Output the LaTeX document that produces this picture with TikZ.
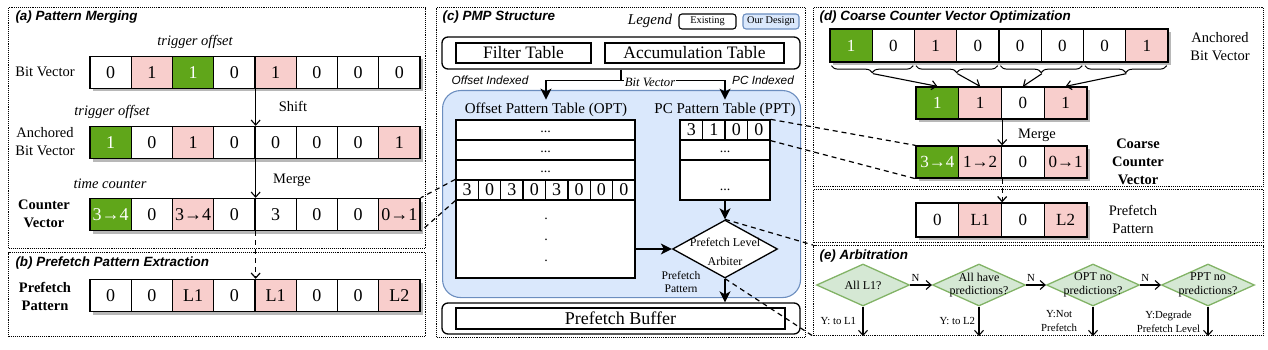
\documentclass[tikz,border=0pt]{standalone}
\usepackage{fontspec}
\setmainfont{Liberation Serif}
\setsansfont{Liberation Sans}
\usetikzlibrary{positioning,calc,arrows.meta,shapes.geometric,shadows,decorations.pathreplacing}

\definecolor{cgreen}{RGB}{96,166,26}
\definecolor{cpink}{RGB}{248,206,204}
\definecolor{cblue}{RGB}{218,232,252}
\definecolor{cbluedraw}{RGB}{108,142,191}
\definecolor{dgreen}{RGB}{213,232,212}
\definecolor{dgreendraw}{RGB}{130,179,102}

\begin{document}
\begin{tikzpicture}[x=1pt,y=-1pt,
    panel/.style={draw,densely dotted,line width=1.1pt,anchor=north west,inner sep=0},
    ttl/.style={anchor=west,font=\sffamily\bfseries\itshape\fontsize{13.4}{15}\selectfont},
    lbl/.style={align=center,font=\fontsize{14.5}{18}\selectfont},
    blbl/.style={align=center,font=\bfseries\fontsize{14.5}{18}\selectfont},
    ilbl/.style={font=\itshape\fontsize{14.5}{16}\selectfont},
    cell/.style={draw,line width=1.3pt,minimum width=41.25pt,minimum height=32pt,inner sep=0,
        font=\fontsize{18}{18}\selectfont,
        drop shadow={shadow xshift=2.5pt,shadow yshift=-3pt,fill=black!28,opacity=1}},
    dcell/.style={cell,minimum width=42.5pt,minimum height=32pt,font=\fontsize{17}{17}\selectfont},
    cw/.style={fill=white},
    cp/.style={fill=cpink},
    cg/.style={fill=cgreen,text=white},
    tb/.style={draw,line width=1.3pt,inner sep=0,fill=white},
    tcell/.style={tb,minimum width=22.375pt,minimum height=20pt,font=\fontsize{18}{18}\selectfont},
    trow/.style={tb,minimum height=20pt,font=\fontsize{14}{14}\selectfont},
    rbox/.style={draw,line width=1.3pt,rounded corners=6pt,inner sep=0},
    arr/.style={-{Straight Barb[length=5pt,width=9pt]},line width=1.1pt},
    bigarr/.style={-{Stealth[length=11pt,width=11pt,inset=3pt]},line width=1.4pt},
    dsh/.style={dashed,dash pattern=on 5pt off 4pt,line width=1.2pt},
    brc/.style={decorate,decoration={brace,mirror,amplitude=7pt},line width=1pt},
    dec/.style={diamond,draw=dgreendraw,fill=dgreen,line width=1.3pt,minimum width=93pt,minimum height=42pt,inner sep=0},
    dtxt/.style={align=center,font=\fontsize{12}{13.5}\selectfont},
    ylbl/.style={align=center,font=\fontsize{10.8}{14}\selectfont},
]
\useasboundingbox (0,0) rectangle (1268,350);

% panels
\node[panel,minimum width=417pt,minimum height=241pt] (pa) at (8,7) {};
\node[panel,minimum width=417pt,minimum height=84pt] (pb) at (8,252) {};
\node[panel,minimum width=369pt,minimum height=330pt] (pc) at (436,7) {};
\node[panel,minimum width=450pt,minimum height=179pt] (pd) at (813,7) {};
\node[panel,minimum width=450pt,minimum height=53pt] (pf) at (813,189) {};
\node[panel,minimum width=450pt,minimum height=90pt] (pe) at (813,245) {};

\node[ttl] (tia) at (12,17) {(a) Pattern Merging};
\node[ttl] (tib) at (12,263) {(b) Prefetch Pattern Extraction};
\node[ttl] (tic) at (439,17) {(c) PMP Structure};
\node[ttl] (tid) at (816,17) {(d) Coarse Counter Vector Optimization};
\node[ttl] (tie) at (816,256) {(e) Arbitration};

% (a) and (b)
\foreach \v/\cl [count=\i] in {0/cw,1/cp,1/cg,0/cw,1/cp,0/cw,0/cw,0/cw}
    \node[cell,\cl] (bv\i) at ({69.375+41.25*\i},72.5) {\v};
\foreach \v/\cl [count=\i] in {1/cg,0/cw,1/cp,0/cw,0/cw,0/cw,0/cw,1/cp}
    \node[cell,\cl] (ab\i) at ({69.375+41.25*\i},142.5) {\v};
\foreach \v/\cl [count=\i] in {3→4/cg,0/cw,3→4/cp,0/cw,3/cw,0/cw,0/cw,0→1/cp}
    \node[cell,\cl] (cv\i) at ({69.375+41.25*\i},214.5) {\v};
\foreach \v/\cl [count=\i] in {0/cw,0/cw,L1/cp,0/cw,L1/cp,0/cw,0/cw,L2/cp}
    \node[cell,\cl] (pp\i) at ({69.375+41.25*\i},295.5) {\v};

\node[lbl] (bvl) at (45,72) {Bit Vector};
\node[lbl] (abl) at (45,142) {Anchored\\Bit Vector};
\node[blbl] (cvl) at (44,214) {Counter\\Vector};
\node[blbl] (ppl) at (45,296) {Prefetch\\Pattern};
\node[ilbl] (to1) at (195,42) {trigger offset};
\node[ilbl] (to2) at (112,112) {trigger offset};
\node[ilbl] (tcn) at (110,184) {time counter};
\node[lbl] (shl) at (293,106) {Shift};
\node[lbl] (mgl) at (292,180) {Merge};

\draw[arr] (bv4.south east) -- (ab4.north east);
\draw[arr] (ab4.south east) -- (cv4.north east);
\draw[arr,dsh] (cv4.south east) -- (pp4.north east);

% (c)
\node[font=\itshape\fontsize{15}{16}\selectfont] (lg) at (650,21) {Legend};
\node[rbox,rounded corners=3pt,line width=1.1pt,minimum width=57pt,minimum height=15pt,
    font=\fontsize{10.3}{11}\selectfont] (lex) at (707.5,21.5) {Existing};
\node[rbox,rounded corners=3pt,line width=1.1pt,draw=cbluedraw,fill=cblue,minimum width=56pt,minimum height=15pt,
    font=\fontsize{10.3}{11}\selectfont] (lod) at (771,21.5) {Our Design};

\node[rbox,minimum width=358pt,minimum height=32pt] (top) at (621,53) {};
\node[tb,minimum width=135pt,minimum height=20pt,font=\fontsize{17.5}{18}\selectfont] (ft) at (523.5,53) {Filter Table};
\node[tb,minimum width=179pt,minimum height=20pt,font=\fontsize{17.5}{18}\selectfont] (acc) at (694.5,53) {Accumulation Table};

\node[draw=cbluedraw,fill=cblue,line width=1.1pt,rounded corners=18pt,minimum width=358pt,minimum height=207pt,
    anchor=north west] (pmp) at (442,90) {};

\node[font=\fontsize{15}{16}\selectfont] (optl) at (546,110) {Offset Pattern Table (OPT)};
\node[font=\fontsize{15}{16}\selectfont] (pptl) at (725,110) {PC Pattern Table (PPT)};

\draw[bigarr] (top.south) -- ++(0,11) -| (optl.north);
\draw[bigarr] (top.south) -- ++(0,11) -| (pptl.north);
\node[fill=white,inner sep=1pt,font=\itshape\fontsize{12.7}{13}\selectfont] (bvc) at (650,82) {Bit Vector};
\node[font=\sffamily\itshape\fontsize{11.8}{12}\selectfont] (oix) at (490,80) {Offset Indexed};
\node[font=\sffamily\itshape\fontsize{11.8}{12}\selectfont] (pix) at (763,80) {PC Indexed};

% OPT
\node[trow,minimum width=179pt] (o1) at (545.5,130) {\strut...};
\node[trow,minimum width=179pt] (o2) at (545.5,150) {\strut...};
\node[trow,minimum width=179pt] (o3) at (545.5,170) {\strut...};
\foreach \v [count=\i] in {3,0,3,0,3,0,0,0}
    \node[tcell] (or\i) at ({444.8125+22.375*\i},190) {\v};
\node[tb,minimum width=179pt,minimum height=78pt] (o5) at (545.5,239) {};
\node[align=center,font=\fontsize{14}{21}\selectfont] (odt) at (546,240) {.\\.\\.};

% PPT
\foreach \v [count=\i] in {3,1,0,0}
    \node[tcell,minimum width=22.5pt] (pr\i) at ({668.75+22.5*\i},130) {\v};
\node[trow,minimum width=90pt] (p2) at (725,150) {\strut...};
\node[trow,minimum width=90pt,minimum height=40pt] (p3) at (725,180) {};
\node[font=\fontsize{14}{14}\selectfont] (p3d) at (725,188) {\strut...};

\node[tb,diamond,minimum width=105pt,minimum height=58pt] (arb) at (725,249) {};
\node[align=center,font=\fontsize{12}{19}\selectfont] (arbt) at (725,251.5) {Prefetch Level\\Arbiter};
\node[align=center,font=\fontsize{11.6}{13}\selectfont] (ppc) at (681,282) {Prefetch\\Pattern};

\node[rbox,minimum width=358pt,minimum height=31pt] (pbo) at (621,318.5) {};
\node[tb,minimum width=329pt,minimum height=21pt,font=\fontsize{18}{18}\selectfont] (pbi) at (620.5,318.5) {Prefetch Buffer};

\draw[bigarr] (p3.south) -- (arb.north);
\draw[bigarr] (arb.west -| o5.east) -- (arb.west);
\draw[bigarr] (arb.south) -- (arb.south |- pbo.north);

% (d)
\foreach \v/\cl [count=\i] in {1/cg,0/cw,1/cp,0/cw,0/cw,0/cw,0/cw,1/cp}
    \node[dcell,\cl,minimum width=42.25pt,minimum height=33pt] (da\i) at ({808.875+42.25*\i},45.5) {\v};
\node[lbl] (dal) at (1220,47) {Anchored\\Bit Vector};
\foreach \v/\cl [count=\i] in {1/cg,1/cp,0/cw,1/cp}
    \node[dcell,\cl,minimum width=42.75pt] (dc\i) at ({894.625+42.75*\i},103) {\v};
\foreach \v/\cl [count=\i] in {3→4/cg,1→2/cp,0/cw,0→1/cp}
    \node[dcell,\cl,minimum width=42.75pt] (dk\i) at ({894.625+42.75*\i},162) {\v};
\foreach \v/\cl [count=\i] in {0/cw,L1/cp,0/cw,L2/cp}
    \node[dcell,\cl,minimum width=42.75pt,minimum height=34pt] (dp\i) at ({894.625+42.75*\i},220) {\v};

\foreach \a/\b/\j in {1/2/1,3/4/2,5/6/3,7/8/4} {
    \draw[brc] ($(da\a.south west)+(2,3)$) -- ($(da\b.south east)+(-2,3)$);
    \draw[arr] ($(da\a.south east)+(0,11)$) -- (dc\j.north);
}

\node[lbl] (mgd) at (1037,135) {Merge};
\draw[arr] (dc2.south east) -- (dk2.north east);
\draw[arr,dsh] (dk2.south east) -- (dp2.north east);
\node[blbl] (dkl) at (1138,162) {Coarse\\Counter\\Vector};
\node[lbl] (dpl) at (1133,219) {Prefetch\\Pattern};

% (e)
\node[dec] (d1) at (863,285) {};
\node[dec] (d2) at (979,285) {};
\node[dec] (d3) at (1093,285) {};
\node[dec] (d4) at (1208,285) {};
\node[dtxt] (d1t) at (d1) {All L1?};
\node[dtxt] (d2t) at (d2) {All have\\predictions?};
\node[dtxt] (d3t) at (d3) {OPT no\\predictions?};
\node[dtxt] (d4t) at (d4) {PPT no\\predictions?};

\draw[arr] (d1.east) -- node[ylbl,above,pos=0.25] {N} (d2.west);
\draw[arr] (d2.east) -- node[ylbl,above,pos=0.25] {N} (d3.west);
\draw[arr] (d3.east) -- node[ylbl,above,pos=0.25] {N} (d4.west);
\draw[arr] (d1.south) -- node[ylbl,left=3pt] {Y: to L1} (d1.south |- pe.south);
\draw[arr] (d2.south) -- node[ylbl,left=0pt] {Y: to L2} (d2.south |- pe.south);
\draw[arr] (d3.south) -- node[ylbl,left=12pt] {Y:Not\\Prefetch} (d3.south |- pe.south);
\draw[arr] (d4.south) -- node[ylbl,left=4pt] {Y:Degrade\\Prefetch Level} (d4.south |- pe.south);

% links between parts
\draw[dsh] (or1.north west) -- (cv8.north east);
\draw[dsh] (or1.south west) -- (cv8.south east);
\draw[dsh] (pr4.north east) -- (dk1.north west);
\draw[dsh] (pr4.south east) -- (dk1.south west);
\draw[dsh] (arb.north) -- (pe.north west);
\draw[dsh] (arb.south) -- (pe.south west);

\end{tikzpicture}
\end{document}
